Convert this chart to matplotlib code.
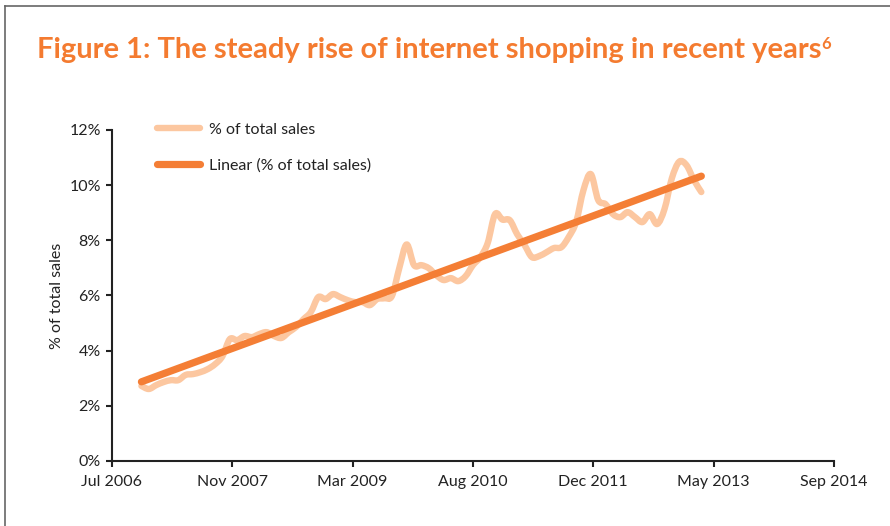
import numpy as np
import matplotlib.pyplot as plt
from matplotlib.lines import Line2D
from matplotlib.path import Path
from matplotlib.patches import PathPatch

# -----------------------------------
# DATA (months counted from Jul 2006)
# -----------------------------------

months = list(range(4, 81))  # Nov 2006 .. Mar 2013

share = [
    2.72, 2.61, 2.75, 2.86, 2.93, 2.93, 3.12, 3.15, 3.22, 3.33,
    3.51, 3.80, 4.42, 4.38, 4.53, 4.49, 4.60, 4.67, 4.53, 4.46,
    4.67, 4.86, 5.14, 5.40, 5.94, 5.87, 6.05, 5.94, 5.83, 5.76,
    5.76, 5.65, 5.87, 5.90, 5.98, 6.99, 7.85, 7.10, 7.10, 6.99,
    6.74, 6.56, 6.63, 6.52, 6.70, 7.10, 7.39, 7.90, 8.95, 8.75,
    8.73, 8.22, 7.83, 7.39, 7.43, 7.57, 7.72, 7.75, 8.12, 8.66,
    9.82, 10.40, 9.46, 9.31, 8.95, 8.84, 9.02, 8.84, 8.66, 8.95,
    8.59, 9.13, 10.25, 10.85, 10.72, 10.18, 9.75,
]

tick_months = [0, 16.33, 32.67, 49, 65.33, 81.67, 98]
tick_labels = ["Jul 2006", "Nov 2007", "Mar 2009", "Aug 2010",
               "Dec 2011", "May 2013", "Sep 2014"]
y_ticks = [0, 2, 4, 6, 8, 10, 12]

light = "#FCC7A0"
dark = "#F47E35"
text_col = "#222222"

x = np.array(months, dtype=float)
y = np.array(share)

# linear trend
slope, icept = np.polyfit(x, y, 1)
trend = slope * x + icept

# smooth path through the points (like Excel's smoothed line)
verts = [(x[0], y[0])]
codes = [Path.MOVETO]
for i in range(len(x) - 1):
    x0, y0 = x[max(i - 1, 0)], y[max(i - 1, 0)]
    x1, y1 = x[i], y[i]
    x2, y2 = x[i + 1], y[i + 1]
    x3, y3 = x[min(i + 2, len(x) - 1)], y[min(i + 2, len(x) - 1)]
    verts += [(x1 + (x2 - x0) / 6, y1 + (y2 - y0) / 6),
              (x2 - (x3 - x1) / 6, y2 - (y3 - y1) / 6),
              (x2, y2)]
    codes += [Path.CURVE4] * 3

# -----------------------------------
# PLOT
# -----------------------------------

plt.rcParams['font.family'] = ['Lato', 'DejaVu Sans']

fig = plt.figure(figsize=(8.9, 5.26), dpi=100)
ax = fig.add_axes([0.1258, 0.1236, 0.8112, 0.6293])

ax.add_patch(PathPatch(Path(verts, codes), facecolor='none', edgecolor=light,
                       linewidth=4.6, capstyle='round', joinstyle='round'))
ax.plot([], [], color=light, linewidth=4.6, solid_capstyle='round',
        label="% of total sales")
ax.plot([x[0], x[-1]], [trend[0], trend[-1]], color=dark, linewidth=5.2,
        solid_capstyle='round', label="Linear (% of total sales)")

ax.set_xlim(0, 98)
ax.set_ylim(0, 12)
ax.set_xticks(tick_months)
ax.set_xticklabels(tick_labels)
ax.set_yticks(y_ticks)
ax.set_yticklabels([f"{v}%" for v in y_ticks])

for s in ['top', 'right']:
    ax.spines[s].set_visible(False)
for s in ['left', 'bottom']:
    ax.spines[s].set_linewidth(1.5)
    ax.spines[s].set_color(text_col)

ax.tick_params(axis='both', direction='out', length=4, width=1.5,
               color=text_col, labelsize=11.5, labelcolor=text_col)
ax.tick_params(axis='x', pad=6)
ax.tick_params(axis='y', pad=4)

ax.set_ylabel("% of total sales", fontsize=11.5, color=text_col, labelpad=4)

ax.legend(loc='upper left', bbox_to_anchor=(0.042, 1.065), frameon=False,
          fontsize=11.5, handlelength=2.7, handletextpad=0.55,
          labelspacing=1.35, labelcolor=text_col)

# title with superscript footnote mark
title = fig.text(0.042, 0.905, "Figure 1: The steady rise of internet shopping in recent years",
                 fontsize=21, fontweight='bold', color="#F47B30", va='center')
fig.canvas.draw()
bb = title.get_window_extent().transformed(fig.transFigure.inverted())
fig.text(bb.x1 - 0.001, bb.y1 + 0.002, "6", fontsize=12, fontweight='bold',
         color="#F47B30", va='top')

# frame lines round the figure
fig.add_artist(Line2D([0.006, 1.0], [0.989, 0.989], color="#666666", linewidth=1.2))
fig.add_artist(Line2D([0.006, 0.006], [0.0, 0.989], color="#666666", linewidth=1.2))

plt.savefig("out.png", dpi=100)
